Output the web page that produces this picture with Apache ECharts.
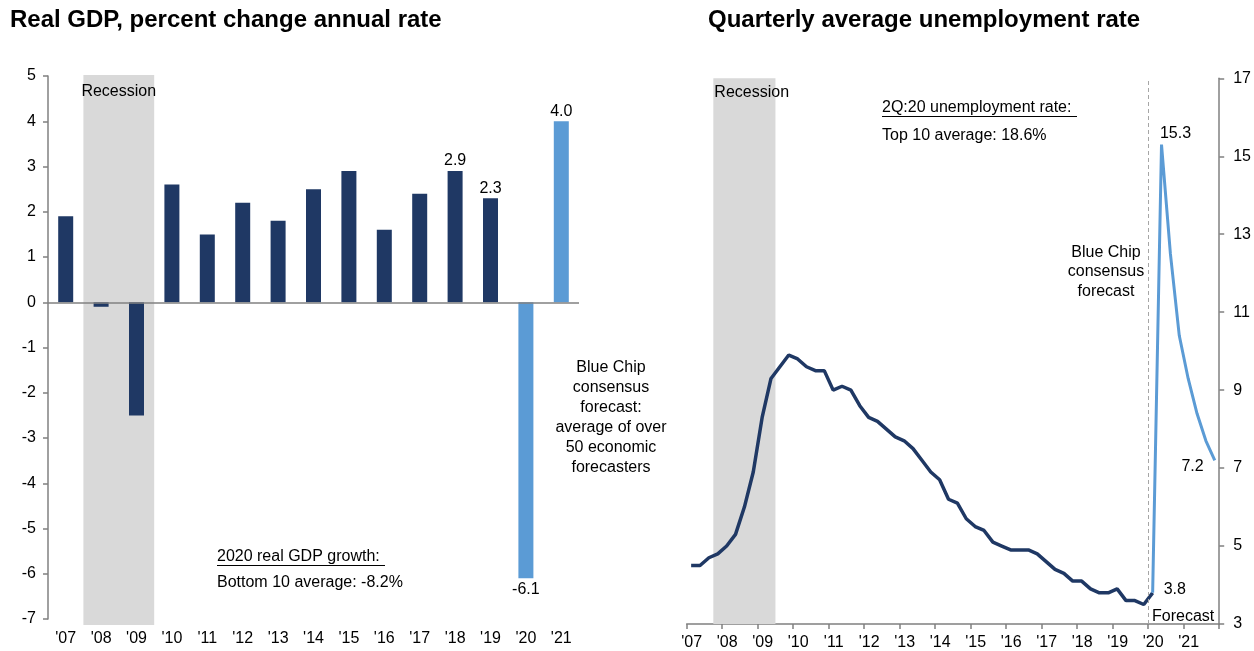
<!DOCTYPE html>
<html><head><meta charset="utf-8">
<script src="https://cdn.jsdelivr.net/npm/echarts@6/dist/echarts.min.js"></script>
<style>html,body{margin:0;padding:0;background:#fff}#c{width:1254px;height:651px}</style>
</head><body><div id="c"></div>
<script>
// ---------- Left chart: Real GDP ----------
const gdpYears = ["'07","'08","'09","'10","'11","'12","'13","'14","'15","'16","'17","'18","'19","'20","'21"];
const gdpValues = [1.9, -0.1, -2.5, 2.6, 1.5, 2.2, 1.8, 2.5, 2.9, 1.6, 2.4, 2.9, 2.3, -6.1, 4.0];
const gdpForecastYears = ["'20","'21"];
const gdpLabeledYears = ["'18","'19","'20","'21"];
const gdpRecessionYears = ["'08","'09"];
const gdpYMin = -7, gdpYMax = 5;

// ---------- Right chart: Quarterly unemployment ----------
const unempFirstYear = 2007; // first value is 2007 Q1
const unempActual = [
  4.5, 4.5, 4.7, 4.8,   // 2007
  5.0, 5.3, 6.0, 6.9,   // 2008
  8.3, 9.3, 9.6, 9.9,   // 2009
  9.8, 9.6, 9.5, 9.5,   // 2010
  9.0, 9.1, 9.0, 8.6,   // 2011
  8.3, 8.2, 8.0, 7.8,   // 2012
  7.7, 7.5, 7.2, 6.9,   // 2013
  6.7, 6.2, 6.1, 5.7,   // 2014
  5.5, 5.4, 5.1, 5.0,   // 2015
  4.9, 4.9, 4.9, 4.8,   // 2016
  4.6, 4.4, 4.3, 4.1,   // 2017
  4.1, 3.9, 3.8, 3.8,   // 2018
  3.9, 3.6, 3.6, 3.5,   // 2019
  3.8                   // 2020 Q1
];
const unempForecastStartIndex = 52; // 2020 Q1
const unempForecast = [3.8, 15.3, 12.5, 10.4, 9.3, 8.4, 7.7, 7.2]; // 2020Q1 .. 2021Q4
const unempRecession = [2007.75, 2009.5];
const unempForecastStart = 2020;
const unempXMin = 2007, unempXMax = 2022;
const unempYTicks = [3, 5, 7, 9, 11, 13, 15, 17];

const FONT = '"Liberation Sans", Arial, Helvetica, sans-serif';
const FS = 16;
const DARK = '#1F3864', LIGHT = '#5B9BD5', AXIS = '#808080', SHADE = '#D9D9D9', TXT = '#000';

const qx = i => unempFirstYear + i / 4 + 0.125;
const actualData = unempActual.map((v, i) => [qx(i), v]);
const fcLabelIdx = {0: {position: 'right', distance: 11, offset: [0, -3]},
                    1: {position: 'top', distance: 3, offset: [14, 0]}};
fcLabelIdx[unempForecast.length - 1] = {position: 'left', distance: 11, offset: [0, 6]};
const forecastData = unempForecast.map((v, i) => {
  const item = {value: [qx(unempForecastStartIndex + i), v]};
  if (fcLabelIdx[i]) item.label = Object.assign({show: true, formatter: p => p.value[1].toFixed(1),
      fontFamily: FONT, fontSize: FS, color: TXT}, fcLabelIdx[i]);
  return item;
});

const barData = gdpValues.map((v, i) => {
  const y = gdpYears[i];
  const item = {value: v};
  if (gdpLabeledYears.includes(y)) {
    item.label = {show: true, position: v < 0 ? 'bottom' : 'top', distance: v < 0 ? 3 : 2,
      formatter: p => Number(p.value).toFixed(1), fontFamily: FONT, fontSize: FS, color: TXT};
  }
  return item;
});

const recStart = gdpYears.indexOf(gdpRecessionYears[0]);
const recEnd = gdpYears.indexOf(gdpRecessionYears[1]) + 1;

const txt = (x, y, text, opts) => ({type: 'text', x, y, silent: true,
  style: Object.assign({text, font: FS + 'px ' + FONT, fill: TXT, align: 'left', verticalAlign: 'middle'}, opts || {})});

const chart = echarts.init(document.getElementById('c'), null, {renderer: 'canvas'});
chart.setOption({
  animation: false,
  backgroundColor: '#fff',
  textStyle: {fontFamily: FONT},
  grid: [
    {left: 48, top: 76, width: 531, height: 543},
    {left: 48, top: 75, width: 531, height: 550},
    {left: 686.7, top: 78.3, width: 533, height: 547.4}
  ],
  xAxis: [
    {type: 'category', gridIndex: 0, data: gdpYears, boundaryGap: true,
     axisLine: {show: false, onZero: false}, axisTick: {show: false},
     axisLabel: {fontSize: FS, color: TXT, margin: 12, fontFamily: FONT, interval: 0}},
    {type: 'value', gridIndex: 1, min: 0, max: gdpYears.length, show: false},
    {type: 'value', gridIndex: 2, min: unempXMin, max: unempXMax, interval: 1,
     axisLine: {show: true, onZero: false, lineStyle: {color: AXIS, width: 1.5}},
     axisTick: {show: true, length: 5, lineStyle: {color: AXIS, width: 1.5}},
     splitLine: {show: false},
     axisLabel: {fontSize: FS, color: TXT, margin: 11, fontFamily: FONT, padding: [0, 0, 0, 10],
       formatter: v => v < unempXMax ? "'" + String(v).slice(2) : ''}}
  ],
  yAxis: [
    {type: 'value', gridIndex: 0, min: gdpYMin, max: gdpYMax, interval: 1,
     axisLine: {show: true, onZero: false, lineStyle: {color: AXIS, width: 1.5}},
     axisTick: {show: true, length: 5, lineStyle: {color: AXIS, width: 1.5}},
     splitLine: {show: false},
     axisLabel: {fontSize: FS, color: TXT, margin: 12, fontFamily: FONT}},
    {type: 'value', gridIndex: 1, min: 0, max: 1, show: false},
    {type: 'value', gridIndex: 2, position: 'right', min: unempYTicks[0], max: unempYTicks[unempYTicks.length - 1],
     axisLine: {show: true, onZero: false, lineStyle: {color: AXIS, width: 1.5}},
     axisTick: {show: true, length: 5, customValues: unempYTicks, lineStyle: {color: AXIS, width: 1.5}},
     splitLine: {show: false},
     axisLabel: {fontSize: FS, color: TXT, margin: 14, fontFamily: FONT, customValues: unempYTicks}}
  ],
  series: [
    {type: 'line', xAxisIndex: 1, yAxisIndex: 1, data: [], z: 0, silent: true,
     markArea: {silent: true, itemStyle: {color: SHADE},
       label: {show: true, position: 'insideTopLeft', distance: 0, offset: [-2, 9],
         fontSize: FS, color: TXT, fontFamily: FONT},
       data: [[{name: 'Recession', xAxis: recStart, yAxis: 0}, {xAxis: recEnd, yAxis: 1}]]}},
    {type: 'bar', xAxisIndex: 0, yAxisIndex: 0, data: barData, barWidth: 15, z: 2,
     itemStyle: {color: p => gdpForecastYears.includes(gdpYears[p.dataIndex]) ? LIGHT : DARK},
     markLine: {silent: true, symbol: 'none', label: {show: false},
       lineStyle: {color: AXIS, width: 1.5, type: 'solid'}, data: [{yAxis: 0}]}},
    {type: 'line', xAxisIndex: 2, yAxisIndex: 2, data: actualData, z: 3,
     symbol: 'none', lineStyle: {color: DARK, width: 3.5}, itemStyle: {color: DARK},
     markArea: {silent: true, itemStyle: {color: SHADE},
       label: {show: true, position: 'insideTopLeft', distance: 0, offset: [1, 6],
         fontSize: FS, color: TXT, fontFamily: FONT},
       data: [[{name: 'Recession', xAxis: unempRecession[0]}, {xAxis: unempRecession[1]}]]},
     markLine: {silent: true, symbol: 'none', label: {show: false},
       lineStyle: {color: '#A6A6A6', width: 1, type: [4, 3]}, data: [{xAxis: unempForecastStart}]}},
    {type: 'line', xAxisIndex: 2, yAxisIndex: 2, data: forecastData, z: 4,
     symbol: 'circle', symbolSize: 0.1, showSymbol: true,
     lineStyle: {color: LIGHT, width: 3}, itemStyle: {color: LIGHT}}
  ],
  graphic: [
    txt(10, 20, 'Real GDP, percent change annual rate', {font: 'bold 24px ' + FONT}),
    txt(708, 20, 'Quarterly average unemployment rate', {font: 'bold 24px ' + FONT}),
    txt(217, 557, '2020 real GDP growth:'),
    {type: 'line', silent: true, shape: {x1: 217, y1: 565.5, x2: 385, y2: 565.5}, style: {stroke: TXT, lineWidth: 1}},
    txt(217, 583, 'Bottom 10 average: -8.2%'),
    txt(611, 358, 'Blue Chip\nconsensus\nforecast:\naverage of over\n50 economic\nforecasters',
        {align: 'center', verticalAlign: 'top', lineHeight: 20}),
    txt(882, 108, '2Q:20 unemployment rate:'),
    {type: 'line', silent: true, shape: {x1: 882, y1: 116.5, x2: 1077, y2: 116.5}, style: {stroke: TXT, lineWidth: 1}},
    txt(882, 136, 'Top 10 average: 18.6%'),
    txt(1106, 242.5, 'Blue Chip\nconsensus\nforecast', {align: 'center', verticalAlign: 'top', lineHeight: 19.5}),
    txt(1152, 617, 'Forecast')
  ]
});
</script></body></html>
